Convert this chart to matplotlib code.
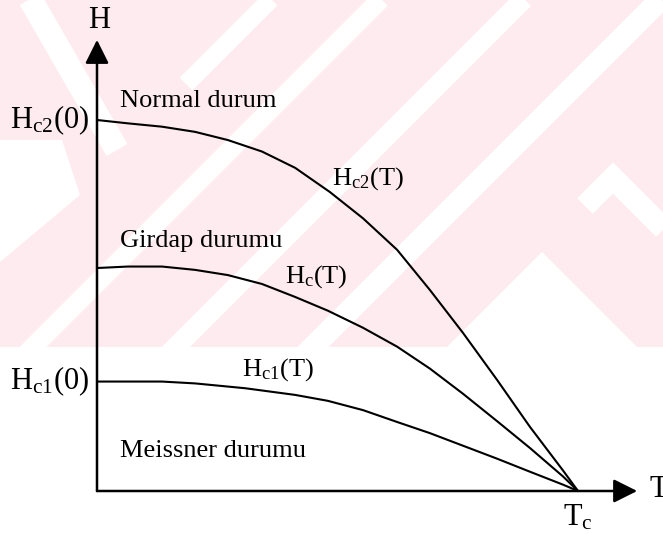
import matplotlib
matplotlib.use("Agg")
import matplotlib.pyplot as plt
from matplotlib.patches import Rectangle, Polygon

plt.rcParams['font.family'] = ['Liberation Serif', 'DejaVu Serif']
plt.rcParams['mathtext.fontset'] = 'custom'
plt.rcParams['mathtext.rm'] = 'Liberation Serif'
plt.rcParams['mathtext.it'] = 'Liberation Serif:italic'

# Reduced temperature T/Tc and reduced field H/Hc2(0) along each critical curve
t_hc2 = [0, 0.064, 0.135, 0.204, 0.272, 0.343, 0.412, 0.484, 0.553, 0.624,
         0.692, 0.761, 0.832, 0.900, 0.969, 1.0]
h_hc2 = [1.0, 0.991, 0.982, 0.968, 0.946, 0.915, 0.871, 0.806, 0.735, 0.650,
         0.542, 0.426, 0.299, 0.173, 0.055, 0]

t_hc = [0, 0.064, 0.135, 0.204, 0.272, 0.343, 0.412, 0.480, 0.553, 0.624,
        0.692, 0.761, 0.832, 0.900, 0.969, 1.0]
h_hc = [0.601, 0.605, 0.605, 0.596, 0.582, 0.558, 0.523, 0.486, 0.440, 0.389,
        0.330, 0.262, 0.188, 0.116, 0.039, 0]

t_hc1 = [0, 0.064, 0.135, 0.204, 0.308, 0.412, 0.480, 0.553, 0.624, 0.692,
         0.761, 0.832, 0.900, 0.969, 1.0]
h_hc1 = [0.295, 0.295, 0.295, 0.290, 0.277, 0.259, 0.243, 0.218, 0.186, 0.156,
         0.122, 0.087, 0.052, 0.017, 0]

curve_labels = [r'H$_{\mathrm{c2}}$(T)', r'H$_{\mathrm{c}}$(T)', r'H$_{\mathrm{c1}}$(T)']
region_labels = ['Normal durum', 'Girdap durumu', 'Meissner durumu']

W, H = 663, 534
fig = plt.figure(figsize=(W / 100, H / 100), dpi=100)

def px(x, y):
    return x / W, 1 - y / H

# pale watermark band behind the diagram
bg = fig.add_axes([0, 0, 1, 1], zorder=0)
bg.set_xlim(0, W)
bg.set_ylim(H, 0)
bg.axis('off')
pink = '#fdebef'
box = Rectangle((0, 0), W, 347, facecolor=pink, edgecolor='none')
bg.add_patch(box)

stripes = [
    ([-20, 400], [400, -20], 19),
    ([156, 543], [367, -20], 20),
    ([298, 700], [362, -40], 22),
    ([186, 290], [84, -20], 18),
    ([25, 117], [-10, 150], 24),
    ([585, 613, 700], [206, 178, 265], 22),
]
for xs, ys, w in stripes:
    ln, = bg.plot(xs, ys, color='white', lw=w * 0.72,
                  solid_capstyle='butt', solid_joinstyle='miter')
    ln.set_clip_path(box)
for pts in ([(447, 347), (542, 252), (637, 347)],
            [(0, 140), (62, 140), (80, 195), (0, 262)]):
    p = Polygon(pts, facecolor='white', edgecolor='none')
    bg.add_patch(p)
    p.set_clip_path(box)

# phase diagram axes: origin at (0, 0), Tc at T = 1, Hc2(0) at H = 1
ax = fig.add_axes([97 / W, 43 / H, 481 / W, 371 / H], zorder=2)
ax.set_xlim(0, 1)
ax.set_ylim(0, 1)
ax.axis('off')

arrow = dict(arrowstyle='-|>,head_length=1.0,head_width=0.5', color='black',
             lw=1.8, shrinkA=0, shrinkB=0, mutation_scale=14.4)
ax.annotate('', xy=(0, 1.216), xytext=(0, 0), arrowprops=arrow, annotation_clip=False)
ax.annotate('', xy=(1.123, 0), xytext=(0, 0), arrowprops=arrow, annotation_clip=False)

for t, h in [(t_hc2, h_hc2), (t_hc, h_hc), (t_hc1, h_hc1)]:
    ax.plot(t, h, color='black', lw=1.5, clip_on=False,
            solid_joinstyle='round', solid_capstyle='round')

big, small = 22, 19
fig.text(*px(99, 28), 'H', fontsize=big, ha='center', va='baseline')
fig.text(*px(649, 497), 'T', fontsize=big, ha='left', va='baseline')
fig.text(*px(563, 525), r'T$_{\mathrm{c}}$', fontsize=big, ha='left', va='baseline')
fig.text(*px(89, 128), r'H$_{\mathrm{c2}}$(0)', fontsize=big, ha='right', va='baseline')
fig.text(*px(89, 389), r'H$_{\mathrm{c1}}$(0)', fontsize=big, ha='right', va='baseline')

for lbl, (x, y) in zip(curve_labels, [(332, 185), (285, 283), (242, 376)]):
    fig.text(*px(x, y), lbl, fontsize=small, ha='left', va='baseline')
for lbl, y in zip(region_labels, [107, 247, 457]):
    fig.text(*px(120, y), lbl, fontsize=small, ha='left', va='baseline')

fig.savefig('out.png', dpi=100)
